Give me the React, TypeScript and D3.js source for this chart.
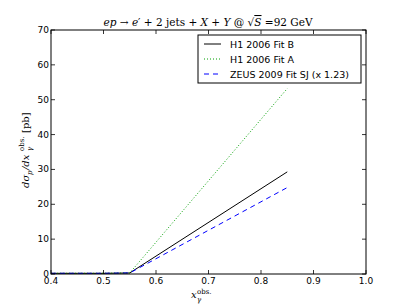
import React from "react";
import * as d3 from "d3";

const xs = [0.4, 0.45, 0.5, 0.55, 0.85];
const fitB = [0.2, 0.2, 0.2, 0.3, 29.3];
const fitA = [0.2, 0.2, 0.2, 0.3, 53.2];
const zeus = [0.2, 0.2, 0.2, 0.3, 24.8];
const xTicks = [0.4, 0.5, 0.6, 0.7, 0.8, 0.9, 1.0];
const yTicks = [0, 10, 20, 30, 40, 50, 60, 70];

const W = 407, H = 305;
const L = 51, R = 366, T = 30, B = 274;

export default function App() {
  const x = d3.scaleLinear().domain([0.4, 1.0]).range([L, R]);
  const y = d3.scaleLinear().domain([0, 70]).range([B, T]);
  const line = d3.line<number>().x((_, i) => x(xs[i])).y((d) => y(d));
  const series = [
    { name: "H1 2006 Fit B", data: fitB, color: "#000000", dash: "none" },
    { name: "H1 2006 Fit A", data: fitA, color: "#00a000", dash: "1,2" },
    { name: "ZEUS 2009 Fit SJ (x 1.23)", data: zeus, color: "#0000ff", dash: "5,4" },
  ];
  const font = "DejaVu Sans, sans-serif";
  const serif = "DejaVu Serif, serif";
  const yl = (T + B) / 2;
  return (
    <svg width={W} height={H} style={{ position: "absolute", left: 0, top: 0, background: "#fff" }}>
      <rect x={0} y={0} width={W} height={H} fill="#fff" />
      <defs>
        <clipPath id="clip">
          <rect x={L} y={T} width={R - L} height={B - T} />
        </clipPath>
      </defs>
      <g clipPath="url(#clip)">
        {series.map((s) => (
          <path key={s.name} d={line(s.data) || ""} fill="none" stroke={s.color} strokeWidth={1} strokeDasharray={s.dash} />
        ))}
      </g>
      <rect x={L} y={T} width={R - L} height={B - T} fill="none" stroke="#000" strokeWidth={1} />
      {xTicks.map((t) => (
        <g key={"x" + t}>
          <line x1={x(t)} x2={x(t)} y1={B} y2={B - 4} stroke="#000" strokeWidth={0.8} />
          <line x1={x(t)} x2={x(t)} y1={T} y2={T + 4} stroke="#000" strokeWidth={0.8} />
          <text x={x(t)} y={B + 9.5} fontSize={9} fontFamily={font} textAnchor="middle">{t.toFixed(1)}</text>
        </g>
      ))}
      {yTicks.map((t) => (
        <g key={"y" + t}>
          <line x1={L} x2={L + 4} y1={y(t)} y2={y(t)} stroke="#000" strokeWidth={0.8} />
          <line x1={R} x2={R - 4} y1={y(t)} y2={y(t)} stroke="#000" strokeWidth={0.8} />
          <text x={L - 2} y={y(t) + 3} fontSize={9} fontFamily={font} textAnchor="end">{t}</text>
        </g>
      ))}
      <text x={208} y={26} fontSize={10.5} fontFamily={serif} textAnchor="middle">
        <tspan fontStyle="italic">ep</tspan>
        <tspan> → </tspan>
        <tspan fontStyle="italic">e</tspan>
        <tspan>′ + 2 jets + </tspan>
        <tspan fontStyle="italic">X</tspan>
        <tspan> + </tspan>
        <tspan fontStyle="italic">Y</tspan>
        <tspan> @ √</tspan>
        <tspan fontStyle="italic" textDecoration="overline">S</tspan>
        <tspan> =92 GeV</tspan>
      </text>
      <g transform={`translate(29,${yl}) rotate(-90)`} fontFamily={serif}>
        <text x={-36} y={0} fontSize={10} fontStyle="italic">dσ</text>
        <text x={-23} y={3} fontSize={7} fontStyle="italic">p</text>
        <text x={-18} y={0} fontSize={10} fontStyle="italic">/dx</text>
        <text x={1} y={3} fontSize={7} fontStyle="italic">γ</text>
        <text x={1} y={-5} fontSize={7}>obs.</text>
        <text x={19} y={0} fontSize={10}>[pb]</text>
      </g>
      <g fontFamily={serif}>
        <text x={191} y={298} fontSize={10} fontStyle="italic">x</text>
        <text x={197} y={302} fontSize={7} fontStyle="italic">γ</text>
        <text x={197} y={294} fontSize={7}>obs.</text>
      </g>
      <rect x={198} y={35} width={163} height={48} fill="#fff" stroke="#000" strokeWidth={1} />
      {series.map((s, i) => (
        <g key={"lg" + i}>
          <line x1={204} x2={221} y1={44 + i * 15} y2={44 + i * 15} stroke={s.color} strokeWidth={1} strokeDasharray={s.dash} />
          <text x={230} y={48 + i * 15} fontSize={9.5} fontFamily={font}>{s.name}</text>
        </g>
      ))}
    </svg>
  );
}
